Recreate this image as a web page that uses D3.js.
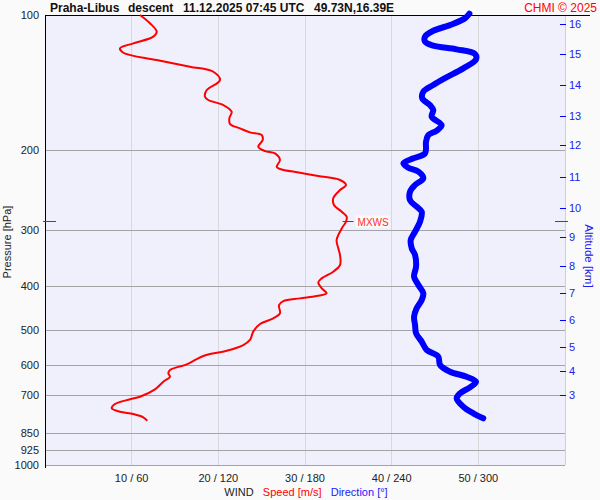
<!DOCTYPE html>
<html><head><meta charset="utf-8">
<script src="https://cdn.jsdelivr.net/npm/d3@7"></script>
<style>body{margin:0;background:#fafafa}svg{display:block;font-family:"Liberation Sans",Arial,sans-serif}</style>
</head><body><svg id="c" width="600" height="500"></svg>
<script>
const titleParts = ["Praha-Libus", "descent", "11.12.2025 07:45 UTC", "49.73N,16.39E"];
const copyright = "CHMI © 2025";
const pressureTicks = [100, 200, 300, 400, 500, 600, 700, 850, 925, 1000];
const speedTicks = [10, 20, 30, 40, 50];
const dirTicks = [60, 120, 180, 240, 300];
const altitudeKm = [3, 4, 5, 6, 7, 8, 9, 10, 11, 12, 13, 14, 15, 16];
const altitudeP = [699, 617, 546, 476, 415, 361, 312, 269, 229.5, 194.8, 167.7, 143.1, 122.3, 104.7];
const mxwsP = 287, mxwsSpeed = 34.8;

const speedP = [100,104.3,108.9,111.7,115.6,118.6,121.3,125.9,130.3,133.7,139.5,146.8,151.9,154.5,158.5,164.0,169.6,174.7,178.6,182.3,184.8,189.6,196.2,200.6,203.0,210.0,217.4,219.9,224.1,227.9,232.6,238.7,244.9,255.5,264.4,273.6,280.7,288.0,297.4,316.2,330.0,341.5,359.4,371.9,384.8,392.6,404.9,415.4,421.2,426.3,432.2,441.1,460.3,472.1,486.1,505.4,527.4,541.3,557.2,566.7,572.6,581.6,597.4,615.1,625.6,636.6,653.1,678.9,705.1,714.5,731.9,748.2,761.3,770.3,783.4,797.2];
const speedVal = [10.96,12.11,12.89,12.5,10.19,8.65,9.03,12.89,16.73,19.42,20.19,18.66,18.46,18.84,20.57,21.54,21.27,21.35,22.5,23.65,25.0,25.12,24.61,25.38,26.54,27.11,26.73,27.11,29.42,31.53,34.04,34.73,34.04,33.26,33.34,34.23,34.81,34.73,34.27,33.65,33.84,34.04,34.04,33.26,31.93,31.53,31.93,32.5,31.35,29.42,27.5,27.0,27.11,26.34,24.81,24.03,23.65,22.88,20.97,19.04,18.26,17.5,16.35,14.42,14.23,14.42,13.65,12.69,10.96,9.81,8.08,7.70,8.65,10.19,11.34,11.80];

const dirP = [99.3,101.7,105.3,108.4,111.7,114.6,117.0,119.2,122.1,125.5,131.4,138.2,143.1,148.1,153.2,158.5,162.6,168.3,175.6,180.7,184.8,191.2,203.0,208.2,213.6,218.5,222.9,230.6,238.7,247.0,257.8,266.7,273.6,288.0,303.0,316.2,330.0,341.5,362.5,381.6,398.1,415.4,429.9,448.5,468.2,488.6,509.6,532.1,555.2,574.5,599.5,620.5,636.6,653.1,672.2,693.0,711.0,742.0,767.5,787.4];
const dirVal = [293.8,290.8,280.4,268.8,263.1,263.1,268.8,285.0,297.7,298.4,289.6,276.9,268.8,261.9,261.2,266.5,268.8,267.7,274.6,271.2,265.4,263.8,263.1,255.0,248.1,251.5,258.5,261.9,256.2,252.7,252.7,257.3,260.8,259.6,256.2,253.2,253.9,256.2,256.9,255.5,258.5,261.9,260.8,257.3,255.5,256.2,256.9,260.8,264.3,272.3,273.5,280.4,291.9,298.4,294.2,287.3,285.0,289.6,296.5,303.4];

const svg = d3.select("#c");
const L = 45, R = 565, T = 15, B = 465;
const y = d3.scaleLog().domain([100, 1000]).range([T, B]);
const xs = d3.scaleLinear().domain([0, 60]).range([L, R]);
const xd = d3.scaleLinear().domain([0, 360]).range([L, R]);

svg.append("rect").attr("width", 600).attr("height", 500).attr("fill", "#fafafa");
svg.append("rect").attr("x", L).attr("y", T).attr("width", R - L).attr("height", B - T).attr("fill", "#f0f0fc");

// vertical grid
svg.selectAll(".vg").data(speedTicks).enter().append("line")
  .attr("x1", d => xs(d)).attr("x2", d => xs(d)).attr("y1", T).attr("y2", B)
  .attr("stroke", "#d8d8dc").attr("stroke-width", 1).attr("shape-rendering", "crispEdges");
svg.append("line").attr("x1", R + 0.5).attr("x2", R + 0.5).attr("y1", T).attr("y2", B)
  .attr("stroke", "#d0d0d4");

// horizontal grid
svg.selectAll(".hg").data(pressureTicks.slice(1)).enter().append("line")
  .attr("x1", L).attr("x2", R).attr("y1", d => Math.round(y(d)) + 0.5).attr("y2", d => Math.round(y(d)) + 0.5)
  .attr("stroke", "#a4a4a8").attr("stroke-width", 1);

// axes lines
svg.append("line").attr("x1", L + 0.5).attr("x2", L + 0.5).attr("y1", T).attr("y2", B + 3).attr("stroke", "#000");
svg.append("line").attr("x1", L).attr("x2", 590).attr("y1", T + 0.5).attr("y2", T + 0.5).attr("stroke", "#000");

// pressure labels
svg.selectAll(".pl").data(pressureTicks).enter().append("text")
  .attr("x", 39).attr("y", d => y(d) + 4).attr("text-anchor", "end")
  .attr("font-size", 11).attr("fill", "#222").text(d => d);
svg.append("text").attr("transform", "translate(11,242) rotate(-90)").attr("text-anchor", "middle")
  .attr("font-size", 11).attr("fill", "#222").text("Pressure [hPa]");

// altitude axis
svg.selectAll(".at").data(altitudeKm).enter().append("line")
  .attr("x1", 560).attr("x2", 566).attr("y1", (d, i) => Math.round(y(altitudeP[i])) + 0.5).attr("y2", (d, i) => Math.round(y(altitudeP[i])) + 0.5)
  .attr("stroke", "#0000ff");
svg.selectAll(".al").data(altitudeKm).enter().append("text")
  .attr("x", 569).attr("y", (d, i) => y(altitudeP[i]) + 4)
  .attr("font-size", 11).attr("fill", "#2020ee").text(d => d);
svg.append("text").attr("transform", "translate(585,256) rotate(90)").attr("text-anchor", "middle")
  .attr("font-size", 11.5).attr("fill", "#2020ee").text("Altitude [km]");

// bottom labels
svg.selectAll(".bl").data(speedTicks).enter().append("text")
  .attr("x", d => xs(d)).attr("y", 482).attr("text-anchor", "middle")
  .attr("font-size", 11).attr("fill", "#222").text((d, i) => d + " / " + dirTicks[i]);
const leg = svg.append("text").attr("x", 306).attr("y", 496).attr("text-anchor", "middle").attr("font-size", 11).attr("xml:space", "preserve");
leg.append("tspan").attr("fill", "#222").text("WIND   ");
leg.append("tspan").attr("fill", "#ff0000").text("Speed [m/s]   ");
leg.append("tspan").attr("fill", "#2020ff").text("Direction [°]");

// title
const tx = [50, 128, 183, 314];
svg.selectAll(".tt").data(titleParts).enter().append("text")
  .attr("x", (d, i) => tx[i]).attr("y", 12).attr("font-size", 12).attr("font-weight", "bold").attr("fill", "#111").text(d => d);
svg.append("text").attr("x", 597).attr("y", 12).attr("text-anchor", "end").attr("font-size", 12).attr("fill", "#ff0000").text(copyright);

// curves
const lineS = d3.line().x(d => xs(d[1])).y(d => y(d[0])).curve(d3.curveCatmullRom);
const lineD = d3.line().x(d => xd(d[1])).y(d => y(d[0])).curve(d3.curveCatmullRom);
svg.append("path").datum(dirP.map((p, i) => [p, dirVal[i]])).attr("d", lineD)
  .attr("fill", "none").attr("stroke", "#0000ff").attr("stroke-width", 6).attr("stroke-linecap", "round").attr("stroke-linejoin", "round");
svg.append("path").datum(speedP.map((p, i) => [p, speedVal[i]])).attr("d", lineS)
  .attr("fill", "none").attr("stroke", "#ff0000").attr("stroke-width", 2).attr("stroke-linejoin", "round");

// MXWS markers
const my = Math.round(y(mxwsP)) + 0.5;
svg.append("line").attr("x1", 43).attr("x2", 56).attr("y1", my).attr("y2", my).attr("stroke", "#ff0000");
svg.append("line").attr("x1", 555).attr("x2", 568).attr("y1", my).attr("y2", my).attr("stroke", "#ff0000");
svg.append("line").attr("x1", xs(mxwsSpeed) - 4).attr("x2", xs(mxwsSpeed) + 7).attr("y1", my).attr("y2", my).attr("stroke", "#ff0000");
svg.append("rect").attr("x", xs(mxwsSpeed) + 9).attr("y", my - 6).attr("width", 34).attr("height", 12).attr("fill", "#fafafa");
svg.append("text").attr("x", xs(mxwsSpeed) + 11).attr("y", my + 4).attr("font-size", 10).attr("fill", "#ff3030").text("MXWS");
</script></body></html>
